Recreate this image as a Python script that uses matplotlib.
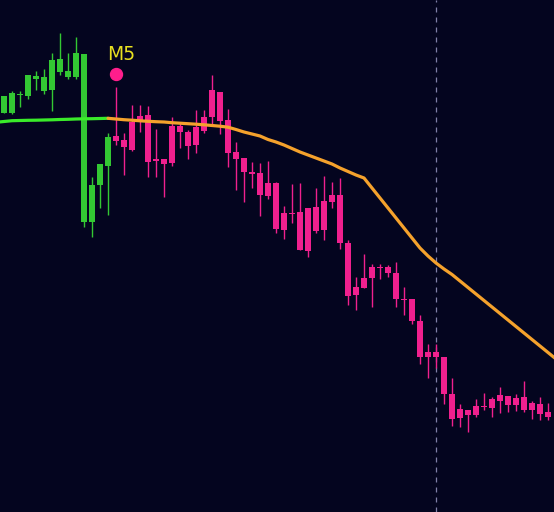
import numpy as np
import matplotlib
matplotlib.use("Agg")
import matplotlib.pyplot as plt

# OHLC (arbitrary price units, one candle per bar)
opens = [399, 399, 417, 416, 433, 421, 422, 440, 435, 435, 290, 290, 327, 346,
         376, 372, 390, 396, 397, 353, 353, 386, 386, 380, 385, 395, 422, 420,
         392, 360, 354, 340, 339, 329, 329, 299, 299, 300, 304, 305, 311, 317,
         317, 269, 225, 234, 245, 245, 245, 239, 213, 213, 191, 160, 160, 155,
         118, 103, 102, 106, 106, 113, 117, 116, 114, 115, 109, 108, 100]
highs = [416, 421, 421, 437, 441, 443, 459, 479, 459, 475, 458, 335, 348, 379,
         425, 379, 407, 407, 406, 383, 353, 395, 390, 382, 402, 402, 437, 420,
         403, 370, 354, 350, 349, 351, 330, 306, 328, 329, 304, 324, 336, 330,
         334, 272, 235, 258, 248, 248, 247, 250, 225, 213, 197, 168, 168, 155,
         134, 108, 102, 113, 119, 115, 125, 116, 118, 131, 111, 115, 109]
lows = [399, 398, 405, 413, 422, 418, 401, 437, 433, 433, 285, 275, 304, 297,
        367, 337, 361, 380, 335, 335, 315, 346, 364, 353, 359, 379, 387, 378,
        345, 322, 310, 324, 296, 313, 279, 273, 289, 262, 255, 279, 272, 304,
        263, 207, 202, 224, 205, 233, 235, 205, 197, 188, 148, 134, 144, 108,
        86, 85, 80, 95, 102, 95, 99, 100, 101, 100, 93, 92, 92]
closes = [416, 419, 418, 437, 436, 435, 452, 453, 441, 459, 458, 327, 348, 375,
          371, 365, 362, 392, 350, 351, 348, 349, 380, 366, 367, 381, 395, 391,
          359, 353, 340, 338, 317, 316, 283, 282, 298, 262, 261, 281, 282, 310,
          269, 216, 217, 224, 234, 244, 239, 213, 212, 191, 155, 155, 155, 118,
          93, 94, 97, 97, 105, 104, 111, 107, 107, 102, 102, 98, 95]
ma = [390.5, 391.3, 391.5, 391.7, 391.8, 392, 392.2, 392.5, 392.7, 393, 393.2,
      393.3, 393.5, 393.7, 393, 392.3, 391.8, 391.2, 390.7, 390.3, 390, 389.3,
      388.8, 388.3, 387.8, 387.2, 386.5, 385.8, 384.8, 382.5, 380, 378, 376,
      372.5, 370, 367, 363.5, 360, 357, 354, 351, 348, 344, 340.5, 337, 334,
      324, 314, 304, 294, 284, 274, 264, 256, 249, 243, 237.5, 231, 224.5,
      218, 211.5, 205, 198.5, 192, 185.5, 179, 172.5, 166, 159.5]
n_bull = 14          # first candles drawn green, the rest pink
signal_bar = 14      # "M5" marker
signal_price = 438
session_bar = 54     # dotted vertical separator

BG = "#04051f"
C_UP = "#33c833"
C_DN = "#f0208e"
C_MA_UP = "#3aeb2a"
C_MA_DN = "#f5a22c"

o = np.array(opens, float)
h = np.array(highs, float)
l = np.array(lows, float)
c = np.array(closes, float)
m = np.array(ma, float)
x = np.arange(len(o))
cols = [C_UP if i < n_bull else C_DN for i in x]

x0, x1 = -0.5, 68.75

fig = plt.figure(figsize=(5.54, 5.12), dpi=100, facecolor=BG)
ax = fig.add_axes([0, 0, 1, 1], facecolor=BG)

ax.axvline(session_bar, color="#8080a8", lw=0.9, ls=(0, (4, 4)), zorder=1)

ax.vlines(x, l, h, colors=cols, lw=1.0, zorder=2)
bot = np.minimum(o, c)
hgt = np.maximum(np.abs(c - o), 1.5)
ax.bar(x, hgt, bottom=bot, width=0.64, color=cols, linewidth=0, zorder=3)

# MA, run out to the chart edges
up_x = np.r_[x0, x[:n_bull]]
up_y = np.r_[m[0] - (m[1] - m[0]) * 0.5, m[:n_bull]]
dn_x = np.r_[x[n_bull - 1:], x1 + 0.5]
dn_y = np.r_[m[n_bull - 1:], m[-1] + (m[-1] - m[-2]) * (x1 + 0.5 - x[-1])]
ax.plot(up_x, up_y, color=C_MA_UP, lw=2.3, zorder=4, solid_capstyle="round")
ax.plot(dn_x, dn_y, color=C_MA_DN, lw=2.3, zorder=4, solid_capstyle="round")

ax.plot([signal_bar], [signal_price], "o", color="#ff1e8c", markersize=8.6,
        zorder=5)
ax.text(signal_bar + 0.6, signal_price + 20, "M5", color="#e8e020",
        fontsize=13.5, ha="center", va="center", zorder=5)

ax.set_xlim(x0, x1)
ax.set_ylim(0, 512)
ax.axis("off")
fig.savefig("out.png", dpi=100, facecolor=BG)
